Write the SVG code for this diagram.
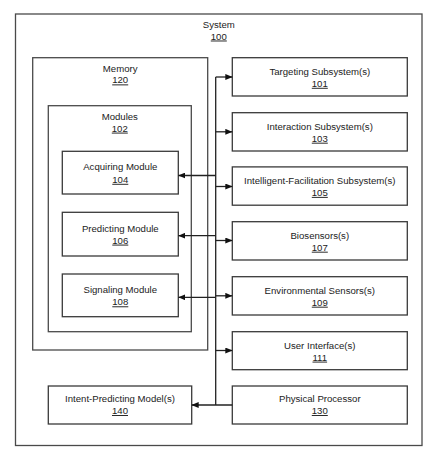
<svg xmlns="http://www.w3.org/2000/svg" width="443" height="463" viewBox="0 0 443 463">
<style>
.box{fill:#fff;stroke:#3a3a3a;stroke-width:1.3}
.cont{fill:none;stroke:#4a4a4a;stroke-width:1.3}
text{font-family:"Liberation Sans",Arial,sans-serif;font-size:9.6px;fill:#222;text-anchor:middle}
.num{text-decoration:underline}
.ln{fill:none;stroke:#222;stroke-width:1.3}
</style>
<defs>
<marker id="ah" viewBox="0 0 7 6" refX="7" refY="3" markerWidth="7" markerHeight="6" markerUnits="userSpaceOnUse" orient="auto">
<path d="M0,0 L7,3 L0,6z" fill="#111"/>
</marker>
</defs>
<rect width="443" height="463" fill="#fff"/>
<g id="system">
<rect class="cont" x="15.5" y="14" width="406.5" height="431.5"/>
<text x="218.8" y="27.8">System</text>
<text class="num" x="218.8" y="39.5">100</text>
</g>
<g id="memory">
<rect class="cont" x="32.7" y="57.7" width="175" height="292.3"/>
<text x="120.2" y="71.8">Memory</text>
<text class="num" x="120.2" y="83.4">120</text>
</g>
<g id="modules">
<rect class="cont" x="48.3" y="105.7" width="143" height="226"/>
<text x="119.8" y="120.2">Modules</text>
<text class="num" x="119.8" y="131.6">102</text>
</g>
<g id="acquiring">
<rect class="box" x="62.3" y="151.3" width="116" height="42.7"/>
<text x="120.3" y="170.2">Acquiring Module</text>
<text class="num" x="120.3" y="182.8">104</text>
</g>
<g id="predicting">
<rect class="box" x="62.3" y="212.3" width="116" height="43.7"/>
<text x="120.3" y="231.6">Predicting Module</text>
<text class="num" x="120.3" y="243.6">106</text>
</g>
<g id="signaling">
<rect class="box" x="62.3" y="274" width="116" height="42.7"/>
<text x="120.3" y="293">Signaling Module</text>
<text class="num" x="120.3" y="305.3">108</text>
</g>
<g id="intent">
<rect class="box" x="48.3" y="386" width="143.4" height="38"/>
<text x="120" y="402.2">Intent-Predicting Model(s)</text>
<text class="num" x="120" y="414">140</text>
</g>
<g id="targeting">
<rect class="box" x="232.3" y="57.7" width="175" height="38.3"/>
<text x="319.8" y="75.2">Targeting Subsystem(s)</text>
<text class="num" x="319.8" y="86.8">101</text>
</g>
<g id="interaction">
<rect class="box" x="232.3" y="112.7" width="175" height="38.3"/>
<text x="319.8" y="130.1">Interaction Subsystem(s)</text>
<text class="num" x="319.8" y="141.7">103</text>
</g>
<g id="facilitation">
<rect class="box" x="232.3" y="166.9" width="175" height="38.3"/>
<text x="319.8" y="184.3">Intelligent-Facilitation Subsystem(s)</text>
<text class="num" x="319.8" y="195.9">105</text>
</g>
<g id="biosensors">
<rect class="box" x="232.3" y="221.7" width="175" height="38.3"/>
<text x="319.8" y="239.1">Biosensors(s)</text>
<text class="num" x="319.8" y="250.7">107</text>
</g>
<g id="environmental">
<rect class="box" x="232.3" y="276.7" width="175" height="38.3"/>
<text x="319.8" y="294.1">Environmental Sensors(s)</text>
<text class="num" x="319.8" y="305.7">109</text>
</g>
<g id="ui">
<rect class="box" x="232.3" y="331.7" width="175" height="38"/>
<text x="319.8" y="349">User Interface(s)</text>
<text class="num" x="319.8" y="360.6">111</text>
</g>
<g id="processor">
<rect class="box" x="232.3" y="386" width="175" height="38"/>
<text x="319.8" y="402.2">Physical Processor</text>
<text class="num" x="319.8" y="414">130</text>
</g>
<g id="connectors">
<path class="ln" d="M215.7,77 V405"/>
<path class="ln" d="M215.7,77 H232.3" marker-end="url(#ah)"/>
<path class="ln" d="M215.7,131.8 H232.3" marker-end="url(#ah)"/>
<path class="ln" d="M215.7,186.5 H232.3" marker-end="url(#ah)"/>
<path class="ln" d="M215.7,240.5 H232.3" marker-end="url(#ah)"/>
<path class="ln" d="M215.7,295.8 H232.3" marker-end="url(#ah)"/>
<path class="ln" d="M215.7,350.5 H232.3" marker-end="url(#ah)"/>
<path class="ln" d="M215.7,175.5 H178.3" marker-end="url(#ah)"/>
<path class="ln" d="M215.7,235.7 H178.3" marker-end="url(#ah)"/>
<path class="ln" d="M215.7,297.3 H178.3" marker-end="url(#ah)"/>
<path class="ln" d="M232.3,405 H191.7" marker-end="url(#ah)"/>
</g>
</svg>
